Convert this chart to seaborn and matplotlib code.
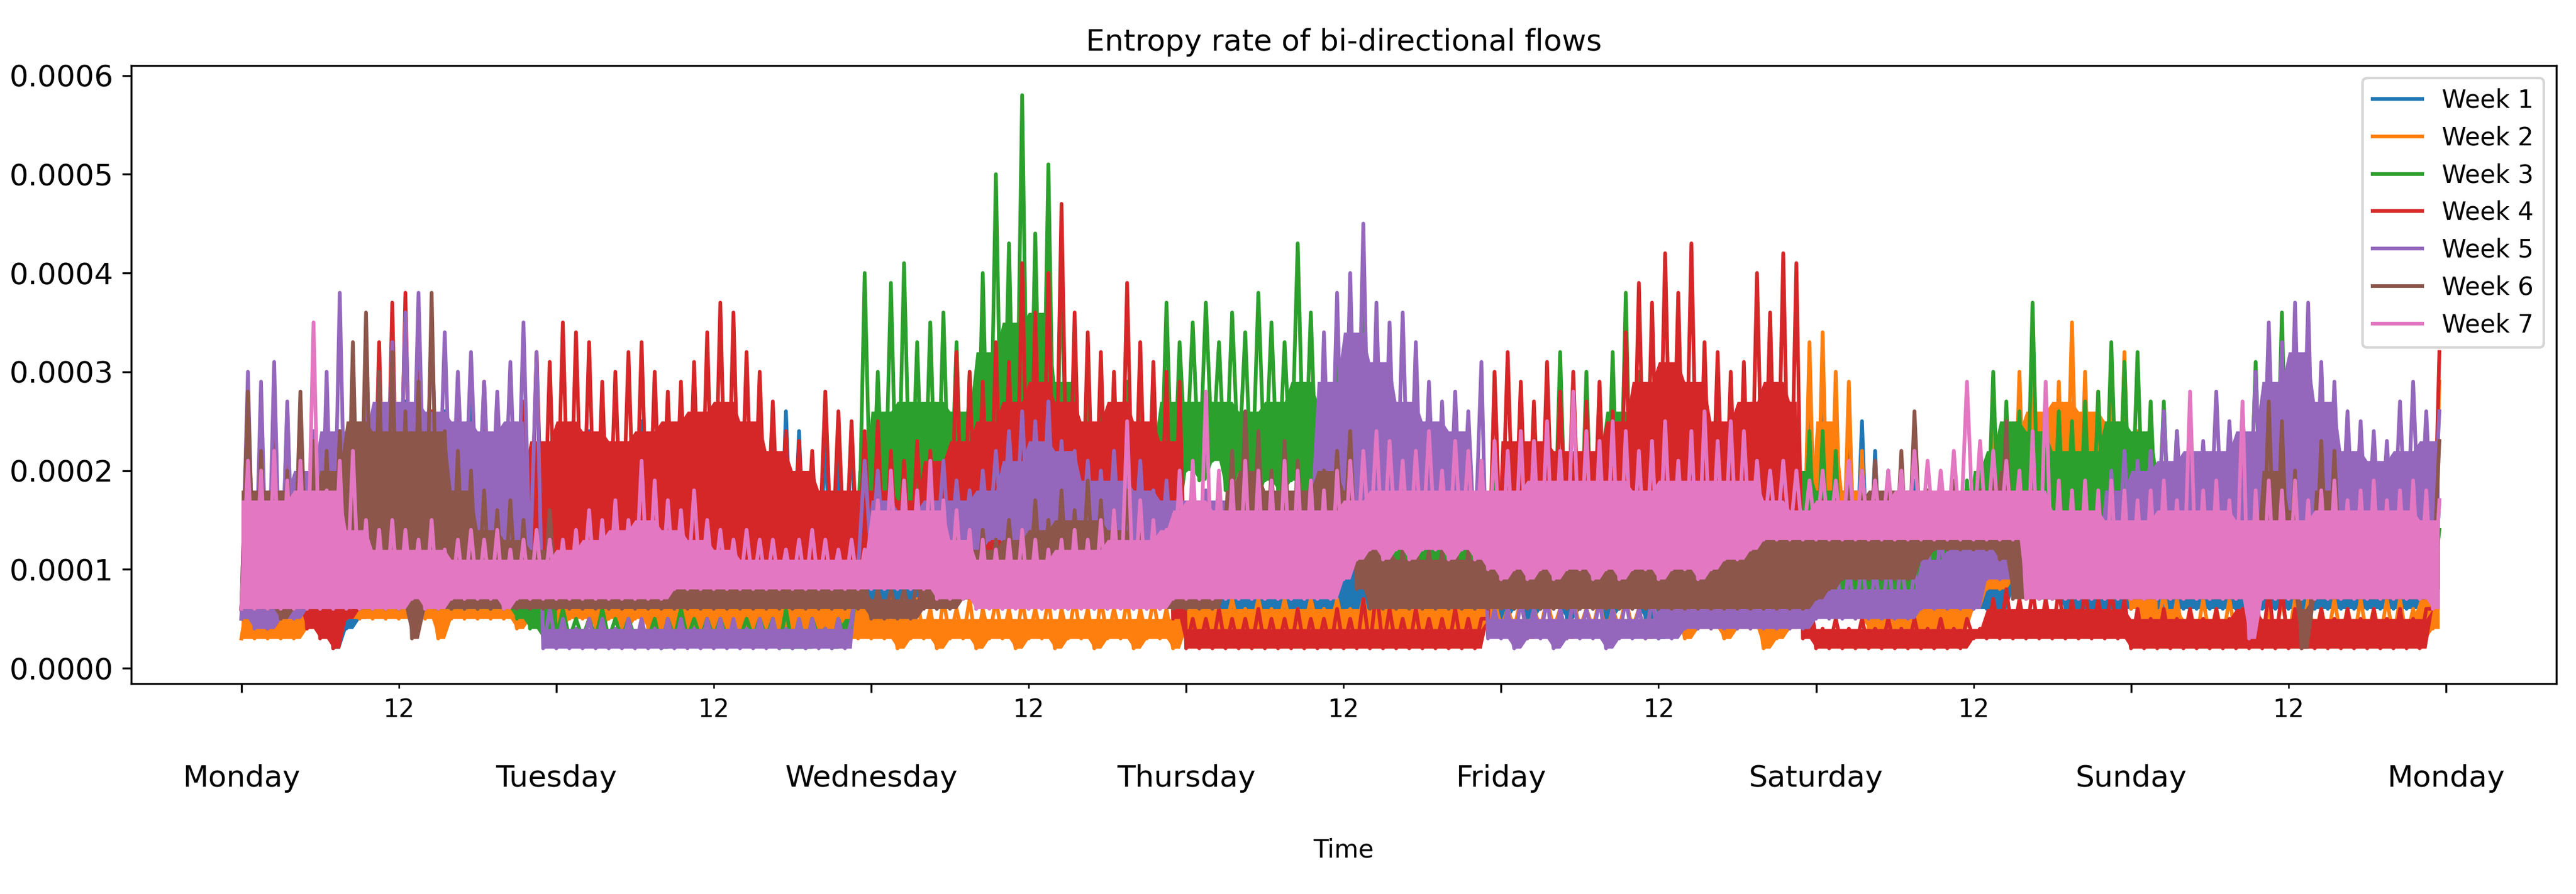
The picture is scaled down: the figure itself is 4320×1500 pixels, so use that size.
import numpy as np
import pandas as pd
import matplotlib
matplotlib.use("Agg")
import matplotlib.pyplot as plt
import matplotlib.dates as mdates
import seaborn as sns

# hourly low / high (spike) envelope of the entropy rate, units of 1e-5
# one row per day, Monday 00h ... Sunday 23h
w1_lo = [6,6,5,6,5,5,4,2,4,5,6,6,7,7,8,8,8,8,7,7,8,7,7,6,
         6,7,7,6,7,6,8,7,8,7,7,8,7,8,7,8,8,7,8,7,8,8,7,7,
         6,6,7,6,7,6,7,7,6,7,6,7,6,6,7,6,7,6,6,7,6,6,7,6,
         6,5,6,6,5,6,6,5,6,6,5,6,6,6,5,6,6,5,6,6,5,6,6,5,
         5,6,5,6,6,5,6,6,5,6,6,5,3,5,6,6,6,7,7,7,7,6,7,7,
         7,7,6,7,6,6,6,6,6,6,6,6,6,6,6,8,8,7,7,6,6,6,6,6,
         6,6,6,6,6,6,6,6,6,6,6,6,6,6,6,6,6,6,6,6,6,6,6,6]
w1_hi = [22,18,20,17,19,16,18,24,21,23,25,20,27,32,24,26,22,28,25,21,19,23,20,18,
         19,21,24,20,22,19,25,20,22,21,23,19,18,20,24,22,26,26,24,19,23,22,24,20,
         15,18,16,19,17,20,18,21,19,17,20,18,16,19,17,15,18,16,17,19,16,18,17,15,
         17,15,18,16,19,17,15,18,16,17,19,16,18,15,17,16,18,17,15,16,18,17,16,15,
         18,17,19,16,18,17,19,20,18,17,19,18,20,18,17,19,21,24,22,26,31,27,24,28,
         26,24,27,25,22,20,18,19,17,18,19,17,18,17,19,16,18,20,17,16,18,17,16,18,
         18,17,19,16,18,17,16,18,17,19,18,16,17,18,16,17,19,18,17,16,18,17,16,17]

w2_lo = [3,3,3,3,3,4,5,5,5,5,5,5,5,5,5,3,5,5,5,5,5,4,5,5,
         4,5,5,4,5,4,5,4,4,4,3,4,3,4,4,3,4,3,3,4,3,3,3,3,
         3,3,2,3,3,2,3,3,2,3,3,2,3,3,2,3,3,2,3,3,2,3,3,2,
         4,4,4,4,4,4,4,4,4,4,4,4,4,4,4,4,4,4,4,4,4,4,4,4,
         4,4,3,4,4,3,4,4,3,4,4,3,4,4,3,4,4,3,4,4,2,3,4,6,
         6,6,6,5,4,4,4,4,4,4,4,4,6,8,8,9,9,8,8,9,9,8,8,8,
         6,4,3,3,3,3,3,3,3,3,3,3,3,3,3,3,3,3,3,3,3,3,3,4]
w2_hi = [7,7,8,7,7,8,9,8,8,9,8,8,8,7,8,8,7,9,8,8,8,7,12,14,
         18,20,14,12,13,11,12,11,12,13,15,14,11,10,9,9,8,9,8,8,8,7,8,7,
         6,7,6,7,6,7,6,7,6,7,6,7,6,7,6,7,6,7,6,7,6,7,6,7,
         6,7,6,7,6,7,6,7,6,7,6,7,6,7,6,7,6,7,6,7,6,7,6,7,
         6,7,6,7,6,7,6,7,6,7,6,7,6,7,6,7,6,7,6,7,6,7,6,33,
         34,30,29,22,12,10,9,8,8,9,8,10,16,28,26,30,31,27,29,35,30,28,27,32,
         24,18,8,7,6,7,6,7,6,7,6,7,7,7,6,7,6,7,6,7,7,6,7,29]

w3_lo = [5,5,5,5,6,6,6,6,6,6,6,6,6,6,6,6,6,6,6,6,6,5,4,3,
         3,3,3,3,3,3,3,3,2,3,3,3,3,3,3,3,3,2,2,2,3,2,3,8,
         12,13,12,14,13,12,13,11,12,13,14,13,12,13,12,11,12,11,12,11,12,11,14,15,
         20,19,21,18,20,17,19,18,19,17,16,15,14,12,12,11,10,10,10,10,9,9,9,9,
         9,9,8,8,9,9,8,8,9,9,8,8,8,8,8,8,8,8,8,8,8,8,8,8,
         8,8,8,8,8,8,8,8,8,8,8,8,9,10,10,10,10,10,10,10,10,10,12,12,
         12,11,11,10,10,10,10,10,10,11,10,11,10,10,9,9,9,9,8,8,8,8,8,8]
w3_hi = [20,18,25,26,24,22,19,18,21,20,19,22,24,21,20,23,19,22,18,20,17,19,18,16,
         6,5,5,6,5,5,4,5,5,6,5,5,5,4,5,5,5,6,5,5,4,5,5,40,
         30,39,41,33,35,36,33,30,40,50,43,58,44,51,41,33,30,28,27,29,27,25,37,33,
         35,37,33,36,34,38,35,33,43,36,32,34,35,38,34,30,26,24,22,21,22,20,21,20,
         20,21,22,24,32,29,30,28,32,38,30,28,27,26,25,31,29,27,25,24,26,27,25,24,
         24,22,20,19,18,19,18,17,18,19,18,19,20,30,27,26,37,28,26,25,27,28,33,31,
         32,27,27,24,22,21,20,22,23,31,28,36,33,34,22,20,19,18,17,18,17,16,15,14]

w4_lo = [6,5,4,5,6,4,3,2,5,6,7,7,7,8,8,8,8,8,9,9,9,9,9,9,
         10,10,11,10,10,11,10,10,11,11,10,10,10,10,10,10,11,11,10,10,10,10,9,9,
         9,9,9,9,9,9,9,10,10,10,10,10,10,10,10,10,10,10,10,10,10,10,10,5,
         2,2,2,2,2,2,2,2,2,2,2,2,2,2,2,2,2,2,2,2,2,2,2,5,
         10,10,10,10,10,10,10,10,10,11,11,11,12,12,11,11,11,10,10,10,11,10,9,3,
         2,2,2,2,2,2,2,2,2,2,2,2,3,3,3,3,3,3,3,3,3,3,3,3,
         2,2,2,2,2,2,2,2,2,2,2,2,2,2,2,2,2,2,2,2,2,2,2,6]
w4_hi = [18,20,24,22,21,20,22,19,24,28,33,37,38,30,26,25,28,24,29,26,24,27,32,31,
         35,34,33,29,30,32,33,30,28,29,31,34,37,36,32,30,27,24,23,22,28,26,25,24,
         25,22,21,23,22,21,32,30,29,33,31,41,36,40,47,36,34,32,30,39,33,31,30,29,
         5,5,6,5,5,6,5,5,6,5,5,6,5,7,8,6,5,6,5,5,6,5,5,30,
         32,29,27,31,28,30,27,29,26,34,39,37,42,38,43,33,32,30,31,40,36,42,41,8,
         4,5,4,5,4,5,4,5,4,5,4,5,4,7,8,7,8,7,8,7,8,7,8,7,
         6,5,6,5,6,5,6,5,6,8,8,8,6,5,6,5,6,5,6,5,6,5,6,32]

w5_lo = [5,4,4,5,5,6,6,6,7,8,9,10,11,12,13,13,13,14,14,13,13,12,10,2,
         2,2,2,2,2,2,2,2,2,2,2,2,2,2,2,2,2,2,2,2,2,2,2,10,
         11,11,10,10,11,12,11,12,12,13,13,13,13,13,12,12,12,11,11,11,11,10,10,10,
         10,10,10,10,10,10,10,10,10,10,12,13,13,14,13,13,13,12,12,12,12,12,12,3,
         3,2,3,3,2,3,3,3,2,3,3,3,3,3,4,4,4,4,4,4,4,4,4,4,
         5,5,5,5,5,5,5,5,6,6,6,6,6,9,9,9,8,8,8,8,8,8,9,10,
         11,12,12,12,12,12,12,12,13,13,13,13,13,13,12,12,12,12,12,12,12,12,12,12]
w5_hi = [30,29,31,27,25,24,30,38,27,31,29,33,36,38,35,34,30,32,29,28,31,35,32,6,
         5,4,5,5,4,5,5,4,5,5,4,5,5,5,4,5,5,4,5,5,4,5,5,21,
         20,19,18,17,18,21,19,18,20,22,24,26,25,27,23,22,21,20,22,19,21,18,19,18,
         19,18,17,18,19,18,17,19,18,18,34,38,40,45,37,35,36,33,29,27,28,26,31,6,
         6,7,6,7,6,7,6,7,6,7,6,7,7,8,7,8,8,7,8,8,8,8,9,8,
         10,11,10,11,10,11,11,10,13,14,13,14,13,15,15,16,13,12,13,12,13,12,20,22,
         21,22,26,24,25,23,28,25,26,30,35,33,37,37,31,29,26,25,24,23,27,29,26,26]

w6_lo = [6,6,6,5,6,6,6,6,6,6,6,6,6,3,6,6,6,6,6,6,6,6,6,6,
         6,6,6,6,6,6,6,6,6,6,6,6,6,6,6,6,6,6,6,6,6,6,6,6,
         5,5,5,5,6,6,6,7,7,7,7,7,7,7,7,7,7,7,7,7,7,7,6,6,
         6,6,6,8,8,9,9,9,9,10,10,12,12,8,6,6,6,6,6,6,6,6,6,6,
         6,6,6,6,6,6,6,6,6,6,6,6,6,6,6,6,6,6,6,6,6,6,6,6,
         7,8,9,9,9,9,9,9,11,12,12,12,12,12,11,7,7,7,7,7,7,7,7,7,
         7,7,7,7,7,7,7,7,7,7,7,7,7,2,7,7,7,7,7,7,7,7,7,8]
w6_hi = [28,22,21,20,28,23,22,24,33,36,30,32,26,29,38,24,22,20,18,16,17,15,14,16,
         10,9,9,10,9,9,10,9,9,9,10,9,9,10,9,9,9,10,9,9,9,10,9,9,
         8,8,8,9,10,12,14,13,14,13,15,14,17,15,18,16,19,17,16,18,15,13,9,8,
         9,8,9,22,26,24,20,23,21,19,20,22,24,16,14,13,12,13,12,12,13,12,12,13,
         13,14,12,13,14,13,12,14,13,15,14,13,14,12,13,14,15,14,16,17,15,16,14,15,
         17,19,18,20,21,19,22,26,18,18,19,17,18,19,25,17,14,13,12,13,12,13,12,12,
         12,11,12,13,12,13,14,13,12,14,27,25,20,6,23,22,16,15,14,13,14,15,14,23]

w7_lo = [6,6,6,6,6,6,6,6,6,6,6,6,6,7,6,6,7,7,7,7,6,7,7,7,
         7,7,7,7,7,7,7,7,7,8,8,8,8,8,8,8,8,8,8,8,8,8,8,8,
         8,8,8,8,8,7,7,7,6,6,6,6,6,6,6,6,6,6,6,6,6,6,6,7,
         7,7,7,7,7,7,7,7,7,7,7,7,9,11,12,11,12,11,12,12,11,12,11,10,
         9,10,9,10,9,10,10,9,10,9,10,10,9,10,10,9,10,11,11,12,13,13,13,13,
         13,13,13,13,13,13,13,13,13,13,13,13,13,13,13,13,7,7,7,7,7,7,7,7,
         7,7,7,7,7,7,7,7,7,3,7,7,7,7,7,7,7,7,7,7,7,7,7,6]
w7_hi = [21,20,22,19,21,35,18,21,22,15,14,15,14,13,15,12,13,14,13,14,12,13,14,13,
         13,14,16,15,17,15,21,19,17,16,18,15,14,13,14,13,13,12,13,14,13,12,13,12,
         17,20,19,18,21,17,16,14,13,12,13,14,13,12,13,14,13,15,16,25,17,15,14,20,
         21,28,20,19,21,20,19,21,20,19,18,20,21,22,24,23,21,22,24,20,23,22,21,23,
         22,24,23,25,22,28,24,23,25,24,22,23,25,21,24,26,23,25,24,21,20,21,20,19,
         20,19,21,20,19,20,20,22,21,20,22,29,23,22,21,20,24,29,19,18,19,18,19,18,
         17,18,19,17,28,18,19,17,27,18,19,18,19,17,18,19,17,18,19,17,18,19,18,17]

# level reached by the dense part of each trace, two-hour steps, units of 1e-5
w1_top = [15,15,15,16,17,18,18,19,18,17,16,15, 15,16,16,16,16,16,16,17,18,18,17,16,
          13,13,13,14,14,13,13,13,13,13,13,12, 12,12,12,12,12,12,12,12,12,12,12,12,
          13,13,13,13,14,14,14,15,17,18,19,20, 19,18,15,14,13,13,13,13,13,13,13,13,
          13,13,13,13,13,13,13,13,13,13,13,13]
w2_top = [6,6,6,6,6,6,6,6,6,6,6,9, 12,10,9,9,10,10,8,7,7,6,6,6,
          5,5,5,5,5,5,5,5,5,5,5,5, 6,6,6,6,6,6,6,6,6,6,6,6,
          5,5,5,5,5,5,5,5,5,5,5,15, 25,18,8,7,7,7,20,24,26,27,26,25,
          12,6,5,5,5,5,5,5,5,5,5,15]
w3_top = [14,18,18,16,16,17,17,16,16,15,14,12, 4,4,4,4,4,4,4,4,4,4,4,20,
          26,27,27,26,32,35,36,29,24,22,22,27, 27,27,26,27,29,27,27,26,20,17,16,16,
          16,18,21,21,26,24,22,22,22,22,20,20, 18,16,15,15,15,15,22,25,24,22,22,25,
          24,20,18,18,22,26,27,18,15,14,13,12]
w4_top = [12,14,14,13,18,23,25,20,20,20,20,23, 25,24,23,24,25,26,27,25,22,20,18,18,
          18,17,21,23,25,27,29,27,25,27,25,23, 4,4,4,4,4,4,4,4,4,4,4,4,
          23,23,22,22,25,29,31,29,25,27,29,27, 4,4,4,4,4,4,6,6,6,6,6,6,
          5,5,5,5,6,5,5,5,5,5,5,5]
w5_top = [16,18,20,24,24,27,27,26,25,24,25,4, 4,4,4,4,4,4,4,4,4,4,4,4,
          17,16,17,17,18,21,23,22,19,19,18,17, 17,17,16,16,17,29,34,31,27,25,24,5,
          5,5,5,5,5,5,6,6,6,7,7,7, 8,8,8,8,11,12,13,13,11,11,11,18,
          20,21,22,22,24,29,32,27,22,21,22,23]
w6_top = [18,18,17,20,25,24,24,24,18,14,13,12, 8,8,8,8,8,8,8,8,8,8,8,8,
          7,7,10,12,12,13,14,15,15,14,12,7, 8,18,20,18,18,20,18,12,11,11,11,11,
          11,11,11,12,12,12,12,12,13,14,14,13, 15,17,18,18,16,17,16,20,12,11,11,11,
          10,11,11,12,11,20,16,18,13,12,12,14]
w7_top = [17,17,18,18,14,12,12,12,11,11,11,11, 12,13,14,15,14,13,12,11,11,11,11,11,
          16,16,16,13,11,11,11,12,12,13,13,16, 17,16,16,16,16,16,17,18,18,18,18,18,
          18,19,19,19,19,18,19,19,19,19,17,16, 17,17,17,18,18,18,18,18,18,16,16,15,
          15,16,16,16,15,15,15,16,16,16,16,15]

weeks = ["Week 1", "Week 2", "Week 3", "Week 4", "Week 5", "Week 6", "Week 7"]
lows = [w1_lo, w2_lo, w3_lo, w4_lo, w5_lo, w6_lo, w7_lo]
highs = [w1_hi, w2_hi, w3_hi, w4_hi, w5_hi, w6_hi, w7_hi]
tops = [w1_top, w2_top, w3_top, w4_top, w5_top, w6_top, w7_top]
colors = sns.color_palette("tab10", 7)

start = pd.Timestamp("2023-01-02")  # a Monday

fig, ax = plt.subplots(figsize=(14.4, 5), dpi=300)

handles = []
for i, (name, lo, hi, top, c) in enumerate(zip(weeks, lows, highs, tops, colors)):
    lo = np.asarray(lo)
    hi = np.asarray(hi)
    hours = np.arange(len(lo))
    # low sample on the hour, spike sample at half past
    t = np.column_stack([hours, hours + 0.5]).ravel()
    v = np.column_stack([lo, hi]).ravel() * 1e-5
    times = start + pd.to_timedelta(t, unit="h")
    # dense band: from the low up to the two-hour level (never above the spike)
    band = np.clip(np.repeat(top, 2), lo, hi)
    z = 2 + i * 0.1
    ax.fill_between(times, np.repeat(lo, 2) * 1e-5, np.repeat(band, 2) * 1e-5,
                    color=c, linewidth=0, zorder=z)
    d = pd.DataFrame({"Time": times, "rate": v})
    sns.lineplot(data=d, x="Time", y="rate", color=c, estimator=None,
                 sort=False, linewidth=1.5, ax=ax, label=name, zorder=z + 0.05)
    handles.append(ax.lines[-1])

end = start + pd.Timedelta(days=7)
pad = pd.Timedelta(hours=8.4)
ax.set_xlim(start - pad, end + pad)
ax.set_ylim(-0.0000157, 0.000610)

ax.xaxis.set_major_locator(mdates.DayLocator())
ax.xaxis.set_major_formatter(mdates.DateFormatter("%A"))
ax.xaxis.set_minor_locator(mdates.HourLocator(byhour=[12]))
ax.xaxis.set_minor_formatter(mdates.DateFormatter("%H"))
ax.tick_params(axis="x", which="major", pad=29, labelsize=12)
ax.tick_params(axis="x", which="minor", labelsize=10)
ax.tick_params(axis="y", labelsize=12)

ax.set_title("Entropy rate of bi-directional flows", fontsize=12)
ax.set_xlabel("Time", fontsize=10, labelpad=18)
ax.set_ylabel("")

leg = ax.legend(handles, weeks, loc="upper right", fontsize=10)
leg.set_zorder(10)

plt.subplots_adjust(left=0.0509, right=0.9923, bottom=0.2353, top=0.9267)
plt.savefig("out.png", dpi=300)
